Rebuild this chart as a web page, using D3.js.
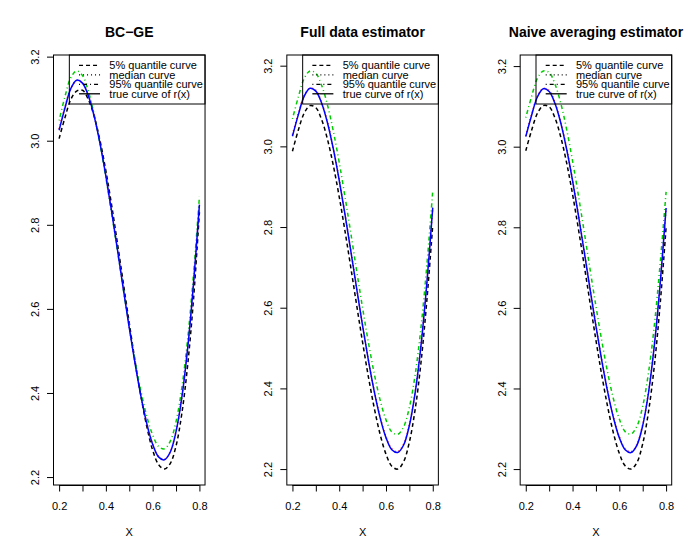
<!DOCTYPE html>
<html>
<head>
<meta charset="utf-8">
<script src="https://cdn.jsdelivr.net/npm/d3@7"></script>
<style>
  html, body { margin: 0; padding: 0; background: #fff; }
  svg { display: block; font-family: "Liberation Sans", Arial, Helvetica, sans-serif; }
</style>
</head>
<body>
<svg id="chart" width="700" height="553"></svg>
<script>
// ---------------- data ----------------
const xGrid = [0.2, 0.225, 0.25, 0.275, 0.3, 0.325, 0.35, 0.375, 0.4, 0.425, 0.45, 0.475, 0.5,
               0.525, 0.55, 0.575, 0.6, 0.625, 0.65, 0.675, 0.7, 0.725, 0.75, 0.775, 0.8];

const trueCurve = [3.025, 3.078, 3.124, 3.144, 3.137, 3.107, 3.058, 2.993, 2.916, 2.830, 2.739, 2.646, 2.555,
                   2.469, 2.392, 2.327, 2.278, 2.248, 2.241, 2.259, 2.308, 2.390, 2.508, 2.662, 2.848];

const bcQ05 = [3.005, 3.055, 3.098, 3.118, 3.120, 3.098, 3.058, 3.000, 2.928, 2.845, 2.754, 2.660, 2.566,
               2.475, 2.392, 2.320, 2.264, 2.230, 2.219, 2.232, 2.274, 2.352, 2.468, 2.625, 2.830];
const bcMed = [3.028, 3.080, 3.125, 3.143, 3.138, 3.108, 3.059, 2.994, 2.917, 2.831, 2.740, 2.647, 2.556,
               2.470, 2.393, 2.328, 2.279, 2.249, 2.242, 2.260, 2.309, 2.391, 2.509, 2.663, 2.851];
const bcQ95 = [3.048, 3.105, 3.150, 3.166, 3.155, 3.118, 3.062, 2.992, 2.912, 2.826, 2.736, 2.645, 2.558,
               2.476, 2.404, 2.344, 2.300, 2.273, 2.267, 2.285, 2.332, 2.413, 2.530, 2.684, 2.867];

const fullQ05 = [2.988, 3.040, 3.082, 3.101, 3.096, 3.066, 3.017, 2.952, 2.875, 2.789, 2.698, 2.605, 2.514,
                 2.428, 2.351, 2.286, 2.237, 2.207, 2.200, 2.218, 2.267, 2.349, 2.466, 2.620, 2.805];
const fullMed = [3.029, 3.081, 3.125, 3.144, 3.139, 3.108, 3.060, 2.994, 2.917, 2.831, 2.740, 2.647, 2.556,
                 2.470, 2.393, 2.329, 2.280, 2.250, 2.243, 2.261, 2.310, 2.392, 2.510, 2.664, 2.847];
const fullQ95 = [3.068, 3.122, 3.168, 3.187, 3.181, 3.151, 3.102, 3.037, 2.960, 2.874, 2.783, 2.690, 2.599,
                 2.513, 2.436, 2.371, 2.322, 2.292, 2.286, 2.304, 2.353, 2.435, 2.553, 2.707, 2.890];

const naiveQ05 = [2.990, 3.041, 3.083, 3.102, 3.099, 3.071, 3.023, 2.959, 2.882, 2.796, 2.705, 2.612, 2.520,
                  2.433, 2.355, 2.289, 2.239, 2.208, 2.200, 2.216, 2.263, 2.343, 2.458, 2.612, 2.800];
const naiveMed = [3.027, 3.080, 3.125, 3.144, 3.139, 3.109, 3.060, 2.995, 2.918, 2.832, 2.741, 2.648, 2.557,
                  2.471, 2.394, 2.329, 2.280, 2.250, 2.243, 2.261, 2.310, 2.392, 2.510, 2.664, 2.846];
const naiveQ95 = [3.072, 3.125, 3.170, 3.188, 3.184, 3.155, 3.107, 3.042, 2.965, 2.879, 2.788, 2.695, 2.604,
                  2.518, 2.440, 2.374, 2.324, 2.293, 2.287, 2.306, 2.356, 2.440, 2.558, 2.712, 2.888];

const panelTitles = ["BC\u2212GE", "Full data estimator", "Naive averaging estimator"];
const xTicks = [0.2, 0.3, 0.4, 0.5, 0.6, 0.7, 0.8];
const xTickLabels = ["0.2", "", "0.4", "", "0.6", "", "0.8"];
const yTicks = [2.2, 2.4, 2.6, 2.8, 3.0, 3.2];
const yTickLabels = ["2.2", "2.4", "2.6", "2.8", "3.0", "3.2"];
const legendLabels = ["5% quantile curve", "median curve", "95% quantile curve", "true curve of r(x)"];
const xLabel = "X";

// ---------------- drawing ----------------
const panels = [
  { title: panelTitles[0], q05: bcQ05, med: bcMed, q95: bcQ95 },
  { title: panelTitles[1], q05: fullQ05, med: fullMed, q95: fullQ95 },
  { title: panelTitles[2], q05: naiveQ05, med: naiveMed, q95: naiveQ95 }
];

const svg = d3.select("#chart");
const panelW = 700 / 3;
const mLeft = 53.5, mRight = 28.3, mTop = 55, mBottom = 68;
const H = 553;

const legendStyles = [
  { dash: "4,3" }, { dash: "1,3" }, { dash: "1,3,4,3" }, { dash: null }
];

panels.forEach((p, i) => {
  const ox = i * panelW;
  const x0 = ox + mLeft, x1 = ox + panelW - mRight;
  const y0 = mTop, y1 = H - mBottom;

  const xs = d3.scaleLinear().domain([0.2 - 0.024, 0.8 + 0.024]).range([x0, x1]);
  const all = [].concat(p.q05, p.med, p.q95, trueCurve);
  const [lo, hi] = d3.extent(all);
  const pad = (hi - lo) * 0.04;
  const ys = d3.scaleLinear().domain([lo - pad, hi + pad]).range([y1, y0]);

  const g = svg.append("g");

  const line = (vals) => d3.line()
      .x((d, k) => xs(xGrid[k]))
      .y(d => ys(d))
      .curve(d3.curveCatmullRom.alpha(0.5))(vals);

  const series = [
    { vals: p.q05, color: "#000000", dash: "4,3" },
    { vals: p.med, color: "#ff0000", dash: "1,3" },
    { vals: p.q95, color: "#00cd00", dash: "1,3,4,3" },
    { vals: trueCurve, color: "#0000ff", dash: null }
  ];
  series.forEach(s => {
    g.append("path").attr("d", line(s.vals))
      .attr("fill", "none").attr("stroke", s.color).attr("stroke-width", 1.5)
      .attr("stroke-dasharray", s.dash);
  });

  // axes
  const xAxis = d3.axisBottom(xs).tickValues(xTicks).tickSize(6.5).tickPadding(10)
      .tickFormat((d, k) => xTickLabels[k]);
  const gx = g.append("g").attr("transform", `translate(0,${y1})`).call(xAxis);
  gx.select(".domain").attr("d", `M${xs(0.2)},0.5H${xs(0.8)}`);
  gx.selectAll("text").attr("font-size", 11).attr("font-family", "Liberation Sans, Arial, sans-serif")
    .attr("fill", "#000").attr("dy", null).attr("y", 24.5);

  const yAxis = d3.axisLeft(ys).tickValues(yTicks).tickSize(6.5)
      .tickFormat((d, k) => yTickLabels[k]);
  const gy = g.append("g").attr("transform", `translate(${x0},0)`).call(yAxis);
  gy.select(".domain").remove();
  gy.selectAll("text").attr("font-size", 11).attr("font-family", "Liberation Sans, Arial, sans-serif")
    .attr("fill", "#000").attr("x", null).attr("dy", null)
    .attr("text-anchor", "middle")
    .attr("transform", "translate(-14.5,0) rotate(-90)");
  gy.selectAll("line").attr("stroke", "#000");
  gx.selectAll("line").attr("stroke", "#000");

  // box
  g.append("rect").attr("x", x0).attr("y", y0).attr("width", x1 - x0).attr("height", y1 - y0)
    .attr("fill", "none").attr("stroke", "#000").attr("stroke-width", 1);

  // title
  g.append("text").attr("x", (x0 + x1) / 2).attr("y", 37).attr("text-anchor", "middle")
    .attr("font-size", 14).attr("font-weight", "bold").text(p.title);

  // x label
  g.append("text").attr("x", (x0 + x1) / 2).attr("y", 535.5).attr("text-anchor", "middle")
    .attr("font-size", 11).text(xLabel);

  // legend (transparent background, as in the reference)
  const lw = 135.7, lh = 49;
  const lx = x1 - lw, ly = y0;
  g.append("rect").attr("x", lx).attr("y", ly).attr("width", lw).attr("height", lh)
    .attr("fill", "none").attr("stroke", "#000").attr("stroke-width", 1);
  legendLabels.forEach((lab, k) => {
    const ry = ly + 10.3 + k * 9.5;
    g.append("line").attr("x1", lx + 9.7).attr("x2", lx + 30.7).attr("y1", ry).attr("y2", ry)
      .attr("stroke", "#000").attr("stroke-width", 1.3)
      .attr("stroke-dasharray", legendStyles[k].dash);
    g.append("text").attr("x", lx + 40).attr("y", ry + 4).attr("font-size", 11).text(lab);
  });
});
</script>
</body>
</html>
